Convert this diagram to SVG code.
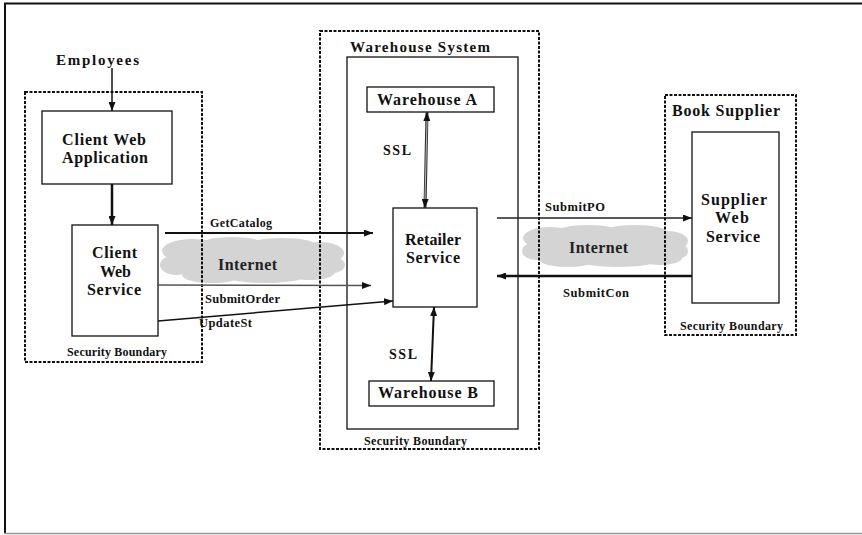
<svg xmlns="http://www.w3.org/2000/svg" width="862" height="535" viewBox="0 0 862 535">
  <style>
    .t { font-family: "Liberation Serif", "Times New Roman", serif; font-weight: bold; fill: #111; }
    .box { fill: #fff; stroke: #111; stroke-width: 1.3; }
    .bound { fill: none; stroke: #111; stroke-width: 2; stroke-dasharray: 3 1.5; }
    .cloud ellipse { fill: #d4d4d4; }
  </style>
  <defs>
    <marker id="ah" markerUnits="userSpaceOnUse" markerWidth="9" markerHeight="7" refX="9" refY="3.5" orient="auto-start-reverse">
      <path d="M0,0 L9,3.5 L0,7 z" fill="#111"/>
    </marker>
  </defs>

  <rect width="862" height="535" fill="#fff"/>
  <!-- page frame -->
  <g id="frame">
    <line x1="4" y1="3.5" x2="862" y2="3.5" stroke="#111" stroke-width="2"/>
    <line x1="5" y1="3" x2="5" y2="534" stroke="#111" stroke-width="2"/>
    <line x1="4" y1="533.5" x2="862" y2="533.5" stroke="#999" stroke-width="1.5"/>
  </g>

  <!-- internet clouds -->
  <g id="cloud-left" class="cloud">
    <ellipse cx="252" cy="261" rx="80" ry="18"/>
    <ellipse cx="192" cy="251" rx="30" ry="12"/>
    <ellipse cx="232" cy="246" rx="35" ry="9"/>
    <ellipse cx="282" cy="246" rx="35" ry="8"/>
    <ellipse cx="320" cy="253" rx="24" ry="11"/>
    <ellipse cx="332" cy="265" rx="13" ry="8"/>
    <ellipse cx="176" cy="265" rx="16" ry="10"/>
    <ellipse cx="212" cy="275" rx="30" ry="8"/>
    <ellipse cx="265" cy="276" rx="40" ry="7"/>
    <ellipse cx="310" cy="272" rx="25" ry="8"/>
    <text class="t" x="218" y="270" font-size="16" textLength="59" lengthAdjust="spacing" style="fill:#222">Internet</text>
  </g>
  <g id="cloud-right" class="cloud">
    <ellipse cx="605" cy="247" rx="72" ry="17"/>
    <ellipse cx="550" cy="238" rx="27" ry="11"/>
    <ellipse cx="588" cy="233" rx="33" ry="8"/>
    <ellipse cx="635" cy="233" rx="33" ry="8"/>
    <ellipse cx="668" cy="241" rx="20" ry="10"/>
    <ellipse cx="677" cy="251" rx="11" ry="8"/>
    <ellipse cx="536" cy="251" rx="14" ry="9"/>
    <ellipse cx="568" cy="260" rx="28" ry="7"/>
    <ellipse cx="618" cy="261" rx="38" ry="6"/>
    <ellipse cx="660" cy="258" rx="22" ry="7"/>
    <text class="t" x="569" y="253" font-size="16" textLength="59" lengthAdjust="spacing" style="fill:#222">Internet</text>
  </g>

  <!-- client side -->
  <g id="client-boundary">
    <rect class="bound" x="25" y="92" width="177" height="270"/>
    <text class="t" x="67" y="356" font-size="12" textLength="100" lengthAdjust="spacing">Security Boundary</text>
  </g>
  <g id="employees">
    <text class="t" x="56" y="65" font-size="15" textLength="83" lengthAdjust="spacing">Employees</text>
  </g>
  <g id="client-web-application">
    <rect class="box" x="42" y="111" width="130" height="73"/>
    <text class="t" x="62" y="145" font-size="16" textLength="84" lengthAdjust="spacing">Client Web</text>
    <text class="t" x="62" y="163" font-size="16" textLength="86" lengthAdjust="spacing">Application</text>
  </g>
  <g id="client-web-service">
    <rect class="box" x="72" y="225" width="86" height="111"/>
    <text class="t" x="92" y="258" font-size="16" textLength="45" lengthAdjust="spacing">Client</text>
    <text class="t" x="100" y="277" font-size="16" textLength="31" lengthAdjust="spacing">Web</text>
    <text class="t" x="87" y="295" font-size="16" textLength="54" lengthAdjust="spacing">Service</text>
  </g>

  <!-- warehouse system -->
  <g id="warehouse-boundary">
    <rect class="bound" x="320" y="31" width="219" height="418"/>
    <text class="t" x="364" y="445" font-size="12" textLength="103" lengthAdjust="spacing">Security Boundary</text>
  </g>
  <g id="warehouse-system">
    <rect class="box" x="347" y="57" width="171" height="372"/>
    <text class="t" x="350" y="52" font-size="15" textLength="140" lengthAdjust="spacing">Warehouse System</text>
  </g>
  <g id="warehouse-a">
    <rect class="box" x="367" y="87" width="127" height="25"/>
    <text class="t" x="377" y="105" font-size="16" textLength="100" lengthAdjust="spacing">Warehouse A</text>
  </g>
  <g id="retailer-service">
    <rect class="box" x="393" y="208" width="84" height="99"/>
    <text class="t" x="405" y="245" font-size="16" textLength="56" lengthAdjust="spacing">Retailer</text>
    <text class="t" x="406" y="263" font-size="16" textLength="54" lengthAdjust="spacing">Service</text>
  </g>
  <g id="warehouse-b">
    <rect class="box" x="369" y="381" width="125" height="25"/>
    <text class="t" x="378" y="398" font-size="16" textLength="100" lengthAdjust="spacing">Warehouse B</text>
  </g>

  <!-- book supplier -->
  <g id="supplier-boundary">
    <rect class="bound" x="665" y="95" width="131" height="240"/>
    <text class="t" x="672" y="116" font-size="16" textLength="108" lengthAdjust="spacing">Book Supplier</text>
    <text class="t" x="680" y="330" font-size="12" textLength="103" lengthAdjust="spacing">Security Boundary</text>
  </g>
  <g id="supplier-web-service">
    <rect class="box" x="692" y="132" width="87" height="171"/>
    <text class="t" x="701" y="205" font-size="16" textLength="66" lengthAdjust="spacing">Supplier</text>
    <text class="t" x="715" y="223" font-size="16" textLength="34" lengthAdjust="spacing">Web</text>
    <text class="t" x="706" y="242" font-size="16" textLength="54" lengthAdjust="spacing">Service</text>
  </g>

  <!-- connectors -->
  <g id="connectors" fill="none">
    <line x1="112" y1="68" x2="112" y2="111" stroke="#111" stroke-width="1.5" marker-end="url(#ah)"/>
    <line x1="112" y1="184" x2="112" y2="225" stroke="#111" stroke-width="2.5" marker-end="url(#ah)"/>
    <line x1="165" y1="233" x2="373" y2="233" stroke="#111" stroke-width="2" marker-end="url(#ah)"/>
    <line x1="157" y1="285" x2="371" y2="285.5" stroke="#555" stroke-width="1.5" marker-end="url(#ah)"/>
    <line x1="158" y1="321" x2="393" y2="301" stroke="#111" stroke-width="1.5" marker-end="url(#ah)"/>
    <!-- SSL link to Warehouse A: hollow double-edged line -->
    <line x1="427" y1="112" x2="425" y2="208" stroke="#333" stroke-width="3" marker-start="url(#ah)" marker-end="url(#ah)"/>
    <line x1="427" y1="121" x2="425" y2="199" stroke="#bbb" stroke-width="1"/>
    <line x1="434" y1="307" x2="431" y2="381" stroke="#111" stroke-width="2" marker-start="url(#ah)" marker-end="url(#ah)"/>
    <line x1="497" y1="218" x2="692" y2="218" stroke="#222" stroke-width="1.5" marker-end="url(#ah)"/>
    <line x1="692" y1="276" x2="497" y2="276" stroke="#111" stroke-width="2.5" marker-end="url(#ah)"/>
  </g>

  <!-- connector labels -->
  <g id="labels">
    <text class="t" x="210" y="227" font-size="12" textLength="62" lengthAdjust="spacing">GetCatalog</text>
    <text class="t" x="205" y="303" font-size="12.5" textLength="75" lengthAdjust="spacing">SubmitOrder</text>
    <text class="t" x="199" y="327" font-size="12.5" textLength="53" lengthAdjust="spacing">UpdateSt</text>
    <text class="t" x="383" y="155" font-size="14" textLength="28" lengthAdjust="spacing">SSL</text>
    <text class="t" x="389" y="359" font-size="14" textLength="28" lengthAdjust="spacing">SSL</text>
    <text class="t" x="545" y="211" font-size="12.5" textLength="60" lengthAdjust="spacing">SubmitPO</text>
    <text class="t" x="563" y="297" font-size="12.5" textLength="66" lengthAdjust="spacing">SubmitCon</text>
  </g>
</svg>
